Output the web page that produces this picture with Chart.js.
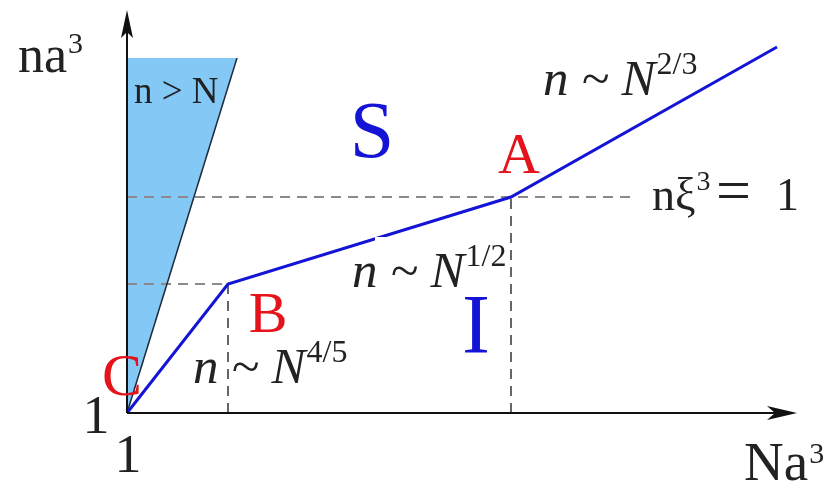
<!DOCTYPE html>
<html>
<head>
<meta charset="utf-8">
<script src="https://cdn.jsdelivr.net/npm/chart.js@4.4.1/dist/chart.umd.min.js"></script>
<style>
  html, body { margin: 0; padding: 0; background: #fff; }
  #wrap { width: 836px; height: 483px; }
</style>
</head>
<body>
<div id="wrap"><canvas id="phase" width="836" height="483"></canvas></div>
<script>
// crossover line C -> B -> A -> beyond, in log(Na^3) / log(na^3)
const crossoverN = [0, 1.01, 3.84, 6.50];
const crossoverNa = [0, 1.29, 2.16, 3.66];

// forbidden wedge n > N
const wedgeN = [0, 0, 1.10, 0];
const wedgeNa = [0, 3.55, 3.55, 0];

// where the n xi^3 = 1 guide stops
const xiGuideEnd = 5.10;

// axis extents
const axisMaxN = 6.70;
const axisMaxNa = 4.01;

const serif = '"Liberation Serif", "Times New Roman", serif';
const RED = '#e5141c';
const BLUE = '#1414d6';

function pts(xs, ys) {
    return xs.map((x, i) => ({ x: x, y: ys[i] }));
}

const iB = 1, iA = 2;
const guideB_h = [{ x: 0, y: crossoverNa[iB] }, { x: crossoverN[iB], y: crossoverNa[iB] }];
const guideB_v = [{ x: crossoverN[iB], y: 0 }, { x: crossoverN[iB], y: crossoverNa[iB] }];
const guideA_h = [{ x: 0, y: crossoverNa[iA] }, { x: xiGuideEnd, y: crossoverNa[iA] }];
const guideA_v = [{ x: crossoverN[iA], y: 0 }, { x: crossoverN[iA], y: crossoverNa[iA] }];

function dashed(data, color) {
    return {
        data: data, showLine: true, borderColor: color, borderWidth: 2,
        borderDash: [10, 7], pointRadius: 0, clip: false, order: 2
    };
}

// axes with arrow heads
const axesPlugin = {
    id: 'axes',
    afterDatasetsDraw(chart) {
        const { ctx, chartArea: a } = chart;
        ctx.save();
        // white patch behind the n ~ N^1/2 label
        ctx.fillStyle = '#fff';
        ctx.fillRect(375, 237, 130, 62);

        ctx.strokeStyle = '#111';
        ctx.fillStyle = '#111';
        ctx.lineWidth = 2;
        ctx.beginPath();
        ctx.moveTo(a.left, a.bottom);
        ctx.lineTo(a.left, a.top + 20);
        ctx.moveTo(a.left, a.bottom);
        ctx.lineTo(a.right - 20, a.bottom);
        ctx.stroke();

        // y arrow
        ctx.beginPath();
        ctx.moveTo(a.left, a.top - 2);
        ctx.lineTo(a.left + 6, a.top + 26);
        ctx.lineTo(a.left, a.top + 20);
        ctx.lineTo(a.left - 6, a.top + 26);
        ctx.closePath();
        ctx.fill();
        // x arrow
        ctx.beginPath();
        ctx.moveTo(a.right, a.bottom);
        ctx.lineTo(a.right - 30, a.bottom - 7);
        ctx.lineTo(a.right - 22, a.bottom);
        ctx.lineTo(a.right - 30, a.bottom + 7);
        ctx.closePath();
        ctx.fill();
        ctx.restore();
    }
};

function text(ctx, s, x, y, font, color, align) {
    ctx.font = font;
    ctx.fillStyle = color;
    ctx.textAlign = align || 'left';
    ctx.fillText(s, x, y);
    return ctx.measureText(s).width;
}

// base text followed by a raised exponent
function withSup(ctx, base, exp, x, y, size, supSize, rise, style) {
    const w = text(ctx, base, x, y, `${style || ''} ${size}px ${serif}`, '#222');
    text(ctx, exp, x + w + 1, y - rise, `${supSize}px ${serif}`, '#222');
}

const labelsPlugin = {
    id: 'labels',
    afterDraw(chart) {
        const ctx = chart.ctx;
        ctx.save();
        ctx.textBaseline = 'alphabetic';

        // axis titles
        withSup(ctx, 'na', '3', 18, 72, 52, 30, 19);
        withSup(ctx, 'Na', '3', 744, 480, 55, 30, 17);
        text(ctx, '1', 96, 433, `54px ${serif}`, '#222', 'center');
        text(ctx, '1', 128, 472, `54px ${serif}`, '#222', 'center');

        // points and regions
        text(ctx, 'C', 122, 395, `60px ${serif}`, RED, 'center');
        text(ctx, 'B', 268, 332, `58px ${serif}`, RED, 'center');
        text(ctx, 'A', 519, 173, `58px ${serif}`, RED, 'center');
        text(ctx, 'S', 372, 157, `80px ${serif}`, BLUE, 'center');
        text(ctx, 'I', 476, 353, `84px ${serif}`, BLUE, 'center');
        text(ctx, 'n > N', 134, 103, `37px ${serif}`, '#222');

        // scaling laws
        withSup(ctx, 'n ~ N', '2/3', 543, 95, 51, 32, 21, 'italic');
        withSup(ctx, 'n ~ N', '1/2', 352, 287, 51, 32, 21, 'italic');
        withSup(ctx, 'n ~ N', '4/5', 193, 383, 51, 32, 21, 'italic');

        // n xi^3 = 1
        withSup(ctx, 'n\u03be', '3', 652, 210, 46, 28, 20);
        text(ctx, '=', 716, 211, `62px ${serif}`, '#222');
        text(ctx, '1', 776, 210, `46px ${serif}`, '#222');
        ctx.restore();
    }
};

new Chart(document.getElementById('phase'), {
    type: 'scatter',
    data: {
        datasets: [
            {
                data: pts(crossoverN, crossoverNa), showLine: true,
                borderColor: BLUE, borderWidth: 3, pointRadius: 0,
                clip: false, order: 0
            },
            {
                data: pts([wedgeN[0], wedgeN[2]], [wedgeNa[0], wedgeNa[2]]),
                showLine: true, borderColor: '#1d2a3a', borderWidth: 1.5,
                pointRadius: 0, clip: false, order: 1
            },
            dashed(guideB_h, '#8a8a8a'),
            dashed(guideB_v, '#666'),
            dashed(guideA_h, '#8a8a8a'),
            dashed(guideA_v, '#666'),
            {
                data: pts(wedgeN, wedgeNa), showLine: true, fill: 'shape',
                backgroundColor: '#84c8f6', borderWidth: 0, pointRadius: 0,
                clip: false, order: 3
            }
        ]
    },
    options: {
        responsive: false,
        devicePixelRatio: 1,
        animation: false,
        events: [],
        layout: { padding: { left: 127, top: 12, right: 39, bottom: 70 } },
        scales: {
            x: { type: 'linear', min: 0, max: axisMaxN, display: false },
            y: { type: 'linear', min: 0, max: axisMaxNa, display: false }
        },
        plugins: {
            legend: { display: false },
            tooltip: { enabled: false }
        }
    },
    plugins: [axesPlugin, labelsPlugin]
});
</script>
</body>
</html>
